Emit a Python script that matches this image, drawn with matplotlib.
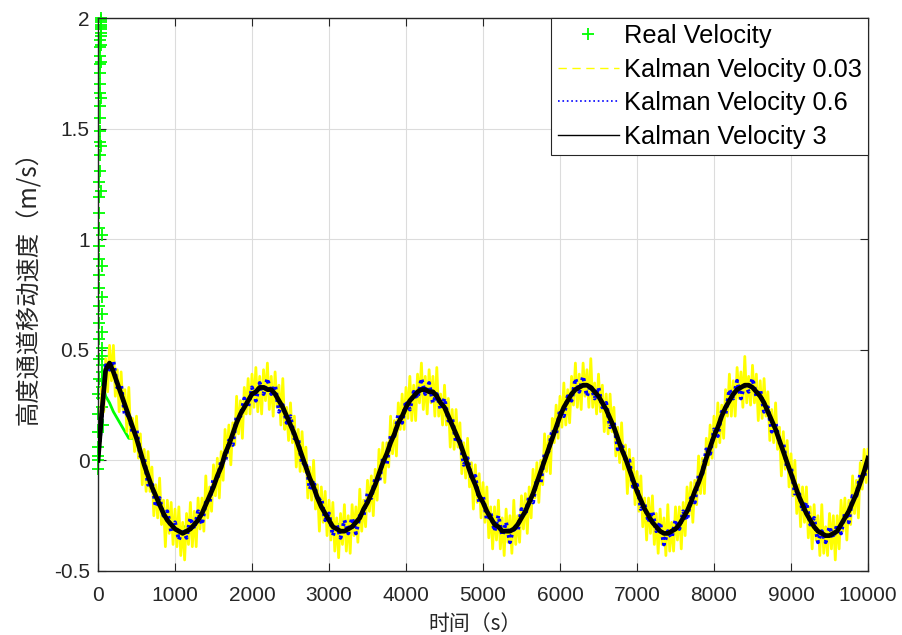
import numpy as np
import matplotlib
matplotlib.use("Agg")
import matplotlib.pyplot as plt
from matplotlib.lines import Line2D

plt.rcParams['font.family'] = ['Liberation Sans', 'DejaVu Sans']

# Kalman velocity, Q = 3 and Q = 0.6, read every 50 s
t_kf = np.arange(0, 10001, 50)

k3 = [0.00, 0.22, 0.41, 0.44, 0.40, 0.35, 0.30, 0.25, 0.20, 0.15,
      0.10, 0.04, -0.02, -0.07, -0.12, -0.16, -0.20, -0.24, -0.27, -0.29,
      -0.31, -0.32, -0.33, -0.32, -0.31, -0.29, -0.27, -0.24, -0.20, -0.16,
      -0.12, -0.07, -0.03, 0.03, 0.07, 0.12, 0.17, 0.21, 0.24, 0.27,
      0.30, 0.31, 0.33, 0.33, 0.32, 0.32, 0.30, 0.27, 0.24, 0.20,
      0.16, 0.12, 0.07, 0.02, -0.03, -0.08, -0.12, -0.17, -0.21, -0.24,
      -0.27, -0.30, -0.31, -0.32, -0.32, -0.31, -0.30, -0.28, -0.26, -0.22,
      -0.19, -0.15, -0.11, -0.06, -0.01, 0.03, 0.08, 0.12, 0.17, 0.20,
      0.24, 0.27, 0.29, 0.31, 0.32, 0.32, 0.31, 0.31, 0.29, 0.26,
      0.24, 0.20, 0.16, 0.12, 0.08, 0.03, -0.02, -0.07, -0.11, -0.16,
      -0.19, -0.23, -0.26, -0.29, -0.30, -0.32, -0.32, -0.32, -0.31, -0.29,
      -0.26, -0.23, -0.19, -0.15, -0.10, -0.05, 0.00, 0.05, 0.10, 0.15,
      0.20, 0.24, 0.27, 0.30, 0.32, 0.33, 0.34, 0.34, 0.33, 0.31,
      0.29, 0.26, 0.23, 0.19, 0.15, 0.10, 0.05, 0.01, -0.04, -0.09,
      -0.14, -0.18, -0.22, -0.25, -0.28, -0.30, -0.32, -0.33, -0.33, -0.32,
      -0.31, -0.29, -0.26, -0.23, -0.19, -0.14, -0.10, -0.05, 0.01, 0.06,
      0.11, 0.15, 0.20, 0.24, 0.27, 0.30, 0.32, 0.33, 0.34, 0.34,
      0.33, 0.31, 0.29, 0.26, 0.22, 0.18, 0.14, 0.09, 0.04, -0.01,
      -0.06, -0.11, -0.16, -0.20, -0.24, -0.27, -0.30, -0.32, -0.33, -0.34,
      -0.34, -0.33, -0.32, -0.29, -0.26, -0.23, -0.19, -0.15, -0.10, -0.05,
      0.01]

k06 = [0.00, 0.20, 0.43, 0.41, 0.45, 0.33, 0.34, 0.20, 0.21, 0.12,
       0.14, 0.02, 0.01, -0.11, -0.10, -0.21, -0.17, -0.25, -0.23, -0.32,
       -0.28, -0.36, -0.31, -0.35, -0.26, -0.31, -0.23, -0.29, -0.19, -0.19,
       -0.08, -0.09, 0.00, -0.01, 0.09, 0.07, 0.20, 0.20, 0.28, 0.24,
       0.33, 0.27, 0.35, 0.30, 0.37, 0.30, 0.34, 0.22, 0.25, 0.17,
       0.20, 0.10, 0.10, -0.02, -0.01, -0.13, -0.09, -0.18, -0.17, -0.27,
       -0.24, -0.34, -0.29, -0.35, -0.27, -0.33, -0.26, -0.33, -0.25, -0.25,
       -0.15, -0.17, -0.08, -0.10, 0.01, -0.02, 0.11, 0.11, 0.21, 0.17,
       0.27, 0.23, 0.31, 0.28, 0.37, 0.30, 0.35, 0.26, 0.30, 0.23,
       0.28, 0.18, 0.19, 0.08, 0.10, -0.02, 0.01, -0.08, -0.07, -0.19,
       -0.16, -0.27, -0.24, -0.32, -0.25, -0.34, -0.28, -0.37, -0.30, -0.32,
       -0.22, -0.25, -0.16, -0.19, -0.08, -0.10, 0.03, 0.04, 0.14, 0.12,
       0.23, 0.20, 0.29, 0.27, 0.37, 0.31, 0.38, 0.29, 0.34, 0.28,
       0.33, 0.24, 0.26, 0.15, 0.17, 0.05, 0.08, 0.00, 0.00, -0.12,
       -0.11, -0.22, -0.20, -0.28, -0.23, -0.32, -0.28, -0.38, -0.32, -0.35,
       -0.27, -0.31, -0.23, -0.27, -0.17, -0.19, -0.07, -0.06, 0.05, 0.03,
       0.14, 0.11, 0.22, 0.21, 0.32, 0.28, 0.36, 0.28, 0.35, 0.31,
       0.37, 0.29, 0.32, 0.22, 0.24, 0.13, 0.17, 0.08, 0.08, -0.04,
       -0.03, -0.15, -0.14, -0.23, -0.19, -0.29, -0.26, -0.37, -0.32, -0.37,
       -0.30, -0.35, -0.29, -0.33, -0.24, -0.28, -0.16, -0.16, -0.06, -0.08,
       0.02]

# Kalman velocity, Q = 0.03 (noisiest), read every 25 s
t_k003 = np.arange(0, 10001, 25)
k003 = [0.00, 0.08, 0.33, 0.22, 0.46, 0.31, 0.52, 0.36, 0.52, 0.29,
        0.41, 0.22, 0.40, 0.23, 0.32, 0.13, 0.33, 0.10, 0.19, 0.04,
        0.20, 0.01, 0.12, -0.11, 0.05, -0.14, 0.04, -0.14, -0.03, -0.25,
        -0.11, -0.26, -0.08, -0.29, -0.18, -0.39, -0.18, -0.33, -0.19, -0.38,
        -0.22, -0.39, -0.21, -0.43, -0.28, -0.45, -0.24, -0.38, -0.19, -0.39,
        -0.23, -0.39, -0.17, -0.31, -0.17, -0.32, -0.07, -0.26, -0.12, -0.23,
        -0.02, -0.16, 0.01, -0.17, 0.04, -0.09, 0.14, 0.01, 0.16, -0.02,
        0.17, 0.07, 0.29, 0.12, 0.27, 0.10, 0.33, 0.21, 0.37, 0.21,
        0.39, 0.24, 0.42, 0.22, 0.38, 0.21, 0.41, 0.27, 0.44, 0.23,
        0.38, 0.20, 0.40, 0.24, 0.34, 0.16, 0.37, 0.14, 0.24, 0.09,
        0.26, 0.08, 0.20, -0.03, 0.14, -0.05, 0.13, -0.05, 0.06, -0.17,
        -0.03, -0.18, 0.00, -0.22, -0.11, -0.32, -0.12, -0.28, -0.14, -0.34,
        -0.18, -0.36, -0.19, -0.41, -0.26, -0.44, -0.24, -0.38, -0.20, -0.41,
        -0.25, -0.42, -0.20, -0.34, -0.21, -0.37, -0.13, -0.32, -0.18, -0.30,
        -0.09, -0.23, -0.07, -0.25, -0.04, -0.18, 0.05, -0.08, 0.08, -0.10,
        0.08, -0.03, 0.20, 0.03, 0.18, 0.02, 0.26, 0.14, 0.30, 0.14,
        0.33, 0.19, 0.38, 0.18, 0.34, 0.18, 0.39, 0.26, 0.44, 0.23,
        0.38, 0.21, 0.41, 0.26, 0.38, 0.20, 0.42, 0.20, 0.30, 0.16,
        0.34, 0.16, 0.28, 0.06, 0.23, 0.05, 0.23, 0.06, 0.17, -0.06,
        0.08, -0.08, 0.10, -0.12, -0.01, -0.22, -0.02, -0.19, -0.06, -0.26,
        -0.10, -0.28, -0.12, -0.35, -0.21, -0.40, -0.21, -0.36, -0.18, -0.40,
        -0.26, -0.43, -0.22, -0.37, -0.25, -0.42, -0.18, -0.38, -0.25, -0.37,
        -0.16, -0.31, -0.15, -0.33, -0.12, -0.26, -0.04, -0.17, -0.01, -0.19,
        0.00, -0.11, 0.12, -0.05, 0.11, -0.06, 0.19, 0.08, 0.25, 0.10,
        0.29, 0.15, 0.35, 0.16, 0.32, 0.17, 0.38, 0.25, 0.44, 0.24,
        0.39, 0.23, 0.44, 0.29, 0.41, 0.24, 0.46, 0.24, 0.35, 0.21,
        0.39, 0.22, 0.34, 0.13, 0.30, 0.12, 0.30, 0.13, 0.24, 0.02,
        0.15, -0.01, 0.17, -0.04, 0.07, -0.15, 0.05, -0.12, 0.01, -0.20,
        -0.05, -0.23, -0.07, -0.30, -0.17, -0.36, -0.17, -0.33, -0.16, -0.38,
        -0.24, -0.42, -0.22, -0.38, -0.26, -0.43, -0.20, -0.41, -0.28, -0.41,
        -0.21, -0.36, -0.21, -0.40, -0.19, -0.34, -0.12, -0.25, -0.10, -0.28,
        -0.09, -0.20, 0.02, -0.15, 0.01, -0.15, 0.10, -0.02, 0.16, 0.01,
        0.20, 0.06, 0.26, 0.08, 0.25, 0.10, 0.32, 0.20, 0.39, 0.20,
        0.36, 0.20, 0.42, 0.28, 0.40, 0.24, 0.47, 0.26, 0.38, 0.25,
        0.43, 0.26, 0.39, 0.18, 0.36, 0.19, 0.37, 0.20, 0.31, 0.09,
        0.23, 0.08, 0.26, 0.05, 0.15, -0.07, 0.13, -0.04, 0.09, -0.12,
        0.03, -0.16, 0.00, -0.24, -0.11, -0.30, -0.12, -0.28, -0.12, -0.35,
        -0.21, -0.40, -0.20, -0.36, -0.25, -0.43, -0.20, -0.42, -0.30, -0.43,
        -0.24, -0.40, -0.25, -0.45, -0.25, -0.40, -0.18, -0.32, -0.17, -0.36,
        -0.18, -0.29, -0.07, -0.24, -0.09, -0.26, -0.01, -0.13, 0.05, -0.10,
        0.05]

# real velocity: start-up spike (1 s samples) then the rest
t_spike = np.arange(0, 60)
v_spike = [0.00, -0.04, 0.02, 0.06, 0.13, 0.21, 0.30, 0.37, 0.46, 0.55,
           0.62, 0.70, 0.78, 0.84, 0.91, 0.97, 1.05, 1.12, 1.19, 1.26,
           1.31, 1.38, 1.44, 1.49, 1.55, 1.60, 1.66, 1.70, 1.75, 1.79,
           1.83, 1.87, 1.90, 1.93, 1.95, 1.97, 1.98, 1.99, 2.00, 1.96,
           1.92, 1.88, 1.80, 1.64, 1.42, 1.22, 1.02, 0.88, 0.74, 0.66,
           0.58, 0.51, 0.47, 0.43, 0.40, 0.36, 0.33, 0.28, 0.24, 0.16]

t_real = [60, 80, 100, 150, 200, 250, 300, 350, 400, 450,
          500, 750, 1000, 1250, 1500, 1750, 2000, 2250, 2500, 2750,
          3000, 3250, 3500, 3750, 4000, 4250, 4500, 4750, 5000, 5250,
          5500, 5750, 6000, 6250, 6500, 6750, 7000, 7250, 7500, 7750,
          8000, 8250, 8500, 8750, 9000, 9250, 9500, 9750, 10000]
v_real = [0.40, 0.32, 0.29, 0.26, 0.22, 0.19, 0.16, 0.13, 0.10, 0.10,
          0.09, -0.16, -0.31, -0.29, -0.12, 0.12, 0.30, 0.32, 0.16, -0.08,
          -0.27, -0.31, -0.19, 0.03, 0.24, 0.32, 0.24, 0.03, -0.19, -0.32,
          -0.26, -0.05, 0.20, 0.33, 0.29, 0.10, -0.14, -0.30, -0.31, -0.14,
          0.11, 0.30, 0.33, 0.18, -0.06, -0.27, -0.34, -0.23, 0.02]

xticks = list(range(0, 10001, 1000))
yticks = [-0.5, 0, 0.5, 1, 1.5, 2]
ytick_labels = ['-0.5', '0', '0.5', '1', '1.5', '2']

fig = plt.figure(figsize=(9.02, 6.35), dpi=100)
ax = fig.add_axes([98/902, 64/635, 770/902, 553/635])

ax.plot(t_real, v_real, color='#00ff00', lw=2.0, zorder=2)
ax.plot(t_spike, v_spike, ls='none', marker='+', ms=9, mew=1.3, color='#00ff00',
        zorder=2, clip_on=False)
ax.plot(t_k003, k003, color='#ffff00', lw=2.0, zorder=3)
ax.plot(t_kf, k06, color='#0000ff', lw=2.8, ls=(0, (0.7, 0.9)), zorder=4)
ax.plot(t_kf, k3, color='black', lw=3.4, zorder=5)

ax.set_xlim(0, 10000)
ax.set_ylim(-0.5, 2)
ax.set_xticks(xticks)
ax.set_yticks(yticks)
ax.set_yticklabels(ytick_labels)
ax.grid(True, color='#dcdcdc', lw=0.8)
ax.set_axisbelow(True)
ax.tick_params(direction='in', length=5.5, width=0.8, top=True, right=True,
               labelsize=15, colors='#262626')
ax.tick_params(axis='x', pad=11)
ax.tick_params(axis='y', pad=6)
for s in ax.spines.values():
    s.set_color('#262626')
    s.set_linewidth(1.0)

cjk = ['Noto Sans CJK SC', 'DejaVu Sans']
ax.set_xlabel('时间（s）', family=cjk, fontsize=15, color='#262626')
ax.set_ylabel('高度通道移动速度（m/s）', family=cjk, fontsize=17.5, color='#262626')
ax.xaxis.set_label_coords(0.49, -0.076)
ax.yaxis.set_label_coords(-0.073, 0.522)

handles = [
    Line2D([], [], ls='none', marker='+', ms=9, mew=1.3, color='#00ff00'),
    Line2D([], [], ls='--', lw=1.0, color='#ffff00', dashes=(6, 4)),
    Line2D([], [], ls=':', lw=1.2, color='#0000ff'),
    Line2D([], [], ls='-', lw=1.0, color='black'),
]
labels = ['Real Velocity', 'Kalman Velocity 0.03', 'Kalman Velocity 0.6', 'Kalman Velocity 3']
leg = ax.legend(handles, labels, loc='upper right', fontsize=18.3, borderaxespad=0,
                fancybox=False, framealpha=1, edgecolor='#262626', handlelength=2.4,
                handletextpad=0.2, labelspacing=0.37, borderpad=0.25)
leg.get_frame().set_linewidth(0.8)

fig.savefig('out.png', dpi=100)
